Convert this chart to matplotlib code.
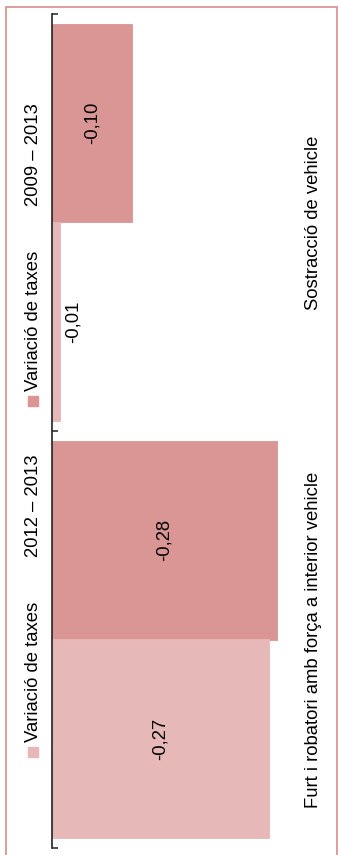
import matplotlib.pyplot as plt
from matplotlib.patches import Rectangle
from matplotlib.transforms import blended_transform_factory
import numpy as np

# Dades
categories = ["Sostracció de vehicle", "Furt i robatori amb força a interior vehicle"]
serie_label = "Variació de taxes"
periods = ["2009 – 2013", "2012 – 2013"]
valors_2009_2013 = [-0.10, -0.28]
valors_2012_2013 = [-0.01, -0.27]
colors = ["#DA9694", "#E6B8B7"]

plt.rcParams['font.family'] = ['Liberation Sans', 'DejaVu Sans']
fs = 13.3

W, H = 338, 855
fig = plt.figure(figsize=(W / 100, H / 100), dpi=100)

def fx(px):
    return px / W

def fy(py):
    return 1 - py / H

# marc exterior
fig.patches.append(Rectangle((fx(6), -0.01), fx(330.5), fy(7.5) + 0.01,
                             transform=fig.transFigure, fill=False,
                             edgecolor="#D99694", lw=1.3))

ax = fig.add_axes([fx(52), fy(848), fx(241), (848 - 14) / H])
ax.patch.set_alpha(0)

y = np.arange(len(categories))
h = 0.477
series = [valors_2009_2013, valors_2012_2013]
offsets = [-0.2385, 0.2385]
for vals, off, col in zip(series, offsets, colors):
    ax.barh(y + off, vals, height=h, color=col, edgecolor=col, lw=0.6)
    for yi, v in zip(y, vals):
        txt = f"{v:.2f}".replace(".", ",")
        if abs(v) < 0.03:
            ax.annotate(txt, (v, yi + off), xytext=(3.5, 0), textcoords="offset points",
                        rotation=90, ha="left", va="center", fontsize=fs)
        else:
            ax.text(v / 2, yi + off, txt, rotation=90, ha="center", va="center",
                    fontsize=fs)

ax.set_xlim(0, -0.30)
ax.set_ylim(len(categories) - 0.5, -0.5)

for s in ["top", "right", "bottom"]:
    ax.spines[s].set_visible(False)
ax.spines["left"].set_color("#222222")
ax.spines["left"].set_linewidth(1.2)
ax.set_xticks([])
ax.set_yticks(np.arange(len(categories) + 1) - 0.5)
ax.set_yticklabels([])
ax.tick_params(axis="y", direction="in", length=4.5, width=1.2, color="#333333")

# etiquetes de categoria
tr = blended_transform_factory(fig.transFigure, ax.transData)
for yi, cat in zip(y, categories):
    ax.text(fx(313), yi, cat, transform=tr, rotation=90, ha="center",
            va="center", fontsize=fs)

# llegenda
leg_y = [401, 752]
for sq, per, col in zip(leg_y, periods, colors):
    fig.patches.append(Rectangle((fx(28), fy(sq + 5)), fx(10), 10 / H,
                                 transform=fig.transFigure, color=col))
    fig.text(fx(34), fy(sq - 10), serie_label, rotation=90, ha="center",
             va="bottom", fontsize=fs)
    fig.text(fx(34), fy(sq - 195), per, rotation=90, ha="center",
             va="bottom", fontsize=fs)

fig.savefig("out.png", dpi=100)
